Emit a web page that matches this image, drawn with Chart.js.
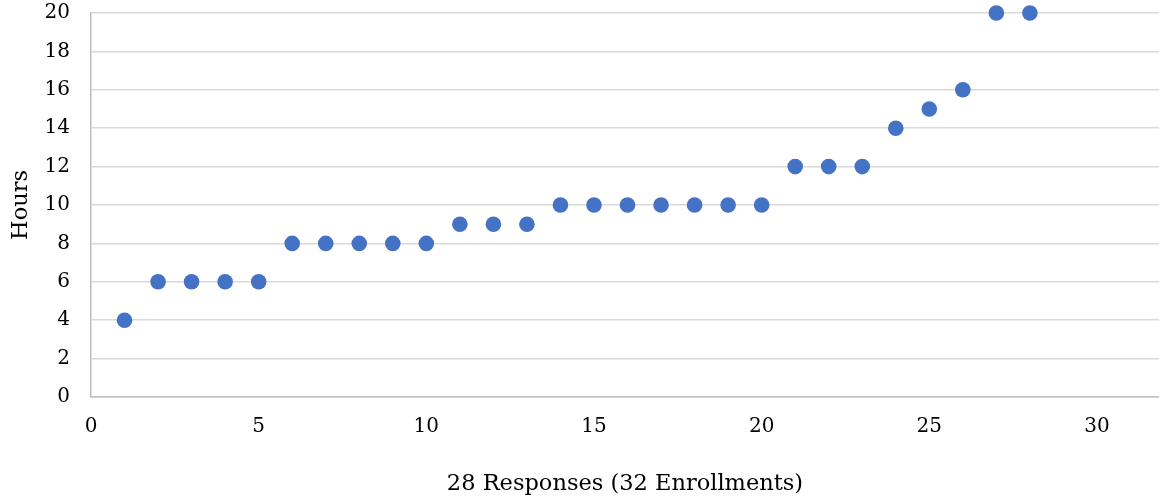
<!DOCTYPE html>
<html>
<head>
<meta charset="utf-8">
<script src="https://cdn.jsdelivr.net/npm/chart.js@4"></script>
<style>
  html, body { margin: 0; padding: 0; background: #fff; }
  #wrap { width: 1159px; height: 500px; position: relative; }
</style>
</head>
<body>
<div id="wrap"><canvas id="hoursChart"></canvas></div>
<script>
// Response number vs reported hours
const respuestas = [1, 2, 3, 4, 5, 6, 7, 8, 9, 10, 11, 12, 13, 14, 15, 16, 17, 18, 19, 20, 21, 22, 23, 24, 25, 26, 27, 28];
const horas = [4, 6, 6, 6, 6, 8, 8, 8, 8, 8, 9, 9, 9, 10, 10, 10, 10, 10, 10, 10, 12, 12, 12, 14, 15, 16, 20, 20];
const xTicks = [0, 5, 10, 15, 20, 25, 30];
const yTicks = [0, 2, 4, 6, 8, 10, 12, 14, 16, 18, 20];

const fuente = "'DejaVu Serif', serif";

const ctx = document.getElementById('hoursChart').getContext('2d');
new Chart(ctx, {
    type: 'scatter',
    data: {
        datasets: [{
            label: 'Hours',
            data: respuestas.map((r, i) => ({ x: r, y: horas[i] })),
            backgroundColor: '#4472C4',
            borderColor: '#4472C4',
            borderWidth: 0,
            pointRadius: 7.8,
            pointHoverRadius: 7.8,
            clip: false
        }]
    },
    options: {
        responsive: true,
        maintainAspectRatio: false,
        animation: false,
        layout: { autoPadding: false, padding: { top: 13, right: 0, bottom: 0, left: 0 } },
        plugins: {
            legend: { display: false },
            tooltip: { enabled: false }
        },
        scales: {
            x: {
                type: 'linear',
                min: 0,
                max: 31.85,
                afterBuildTicks: s => { s.ticks = xTicks.map(v => ({ value: v })); },
                afterFit: s => { s.height = 103; s.paddingLeft = 0; s.paddingRight = 0; },
                grid: { display: false, drawTicks: false },
                border: { display: true, color: '#bfbfbf', width: 1.5 },
                ticks: { color: '#000', font: { family: fuente, size: 20 }, padding: 18, maxRotation: 0 },
                title: {
                    display: true,
                    text: '28 Responses (32 Enrollments)',
                    color: '#000',
                    font: { family: fuente, size: 22.5 },
                    padding: { top: 0, bottom: 2 }
                }
            },
            y: {
                type: 'linear',
                min: 0,
                max: 20,
                afterBuildTicks: s => { s.ticks = yTicks.map(v => ({ value: v })); },
                afterFit: s => { s.width = 91; s.paddingTop = 0; s.paddingBottom = 0; },
                grid: { color: '#d9d9d9', lineWidth: 1.5, drawTicks: false },
                border: { display: true, color: '#bfbfbf', width: 1.5 },
                ticks: { color: '#000', font: { family: fuente, size: 20 }, padding: 21 },
                title: {
                    display: true,
                    text: 'Hours',
                    color: '#000',
                    font: { family: fuente, size: 22.5 },
                    padding: { top: 8, bottom: 0 }
                }
            }
        }
    }
});
</script>
</body>
</html>
